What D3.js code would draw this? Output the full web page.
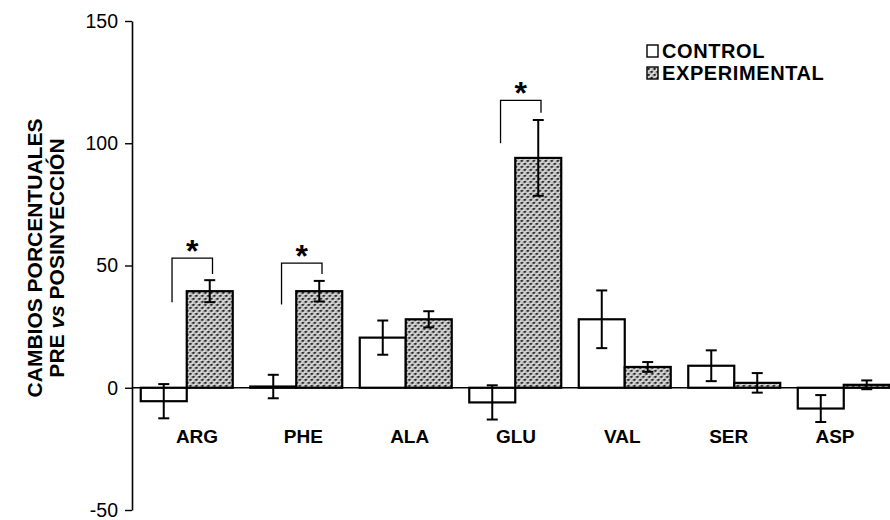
<!DOCTYPE html>
<html>
<head>
<meta charset="utf-8">
<script src="https://cdn.jsdelivr.net/npm/d3@7"></script>
<style>
  body { margin: 0; background: #fff; }
  svg { display: block; font-family: "Liberation Sans", Arial, sans-serif; }
</style>
</head>
<body>
<div id="chart"></div>
<script>
// Amino acids
const categories = ['ARG', 'PHE', 'ALA', 'GLU', 'VAL', 'SER', 'ASP'];
// Percent changes (mean) and error (half-range)
const controlValues = [-5.5, 0.5, 20.5, -6, 28, 9, -8.5];
const controlErrors = [7, 4.8, 7, 7, 11.8, 6.3, 5.5];
const experimentalValues = [39.5, 39.5, 28, 94, 8.5, 2, 1.2];
const experimentalErrors = [4.5, 4.2, 3.3, 15.5, 2, 4, 1.8];
const yTicks = [150, 100, 50, 0, -50];

// Significance brackets
const bracketCats = ['ARG', 'PHE', 'GLU'];
const bracketTop = [53, 51, 117.5];
const bracketLeftEnd = [35, 34, 100];
const bracketRightEnd = [46.5, 46.5, 112.5];

const width = 890, height = 520;
const svg = d3.select('#chart').append('svg')
    .attr('width', width)
    .attr('height', height);

// Pattern for experimental bars
const defs = svg.append('defs');
const pat = defs.append('pattern')
    .attr('id', 'dots')
    .attr('patternUnits', 'userSpaceOnUse')
    .attr('width', 6)
    .attr('height', 6);
pat.append('rect').attr('width', 6).attr('height', 6).attr('fill', '#bcbcbc');
pat.append('path').attr('d', 'M0,0 L6,6 M6,0 L0,6').attr('stroke', '#e6e6e6').attr('stroke-width', 0.9);
pat.append('rect').attr('x', 0.5).attr('y', 1).attr('width', 2.2).attr('height', 1.8).attr('fill', '#1a1a1a');
pat.append('rect').attr('x', 3.5).attr('y', 4).attr('width', 2.2).attr('height', 1.8).attr('fill', '#1a1a1a');

// Scales
const x = d3.scaleBand()
    .domain(categories)
    .range([132, 898.5])
    .paddingInner(0.16)
    .paddingOuter(0.08);

const xSub = d3.scaleBand()
    .domain(['control', 'experimental'])
    .range([0, x.bandwidth()]);

const labelX = d3.scalePoint()
    .domain(categories)
    .range([197, 835]);

const y = d3.scaleLinear()
    .domain([-50, 150])
    .range([510, 21]);

// Y axis
const yAxis = svg.append('g')
    .attr('transform', 'translate(132,0)')
    .call(d3.axisLeft(y).tickValues(yTicks).tickFormat(d => String(d))
        .tickSize(7).tickSizeOuter(0).tickPadding(7));
yAxis.select('.domain').attr('stroke', '#000').attr('stroke-width', 1.6);
yAxis.selectAll('.tick line').attr('stroke', '#000').attr('stroke-width', 1.4);
yAxis.selectAll('.tick text')
    .attr('font-size', 19.5)
    .attr('font-family', '"Liberation Sans", Arial, sans-serif')
    .attr('fill', '#000');

// Y title
const title = svg.append('text')
    .attr('transform', 'translate(0,258) rotate(-90)')
    .attr('text-anchor', 'middle')
    .attr('font-size', 21)
    .attr('font-weight', 'bold');
title.append('tspan').attr('x', 0).attr('y', 42).text('CAMBIOS PORCENTUALES');
const line2 = title.append('tspan').attr('x', 0).attr('y', 64);
line2.append('tspan').text('PRE ');
line2.append('tspan').attr('font-style', 'italic').text('vs');
line2.append('tspan').text(' POSINYECCIÓN');

// Bars
const rows = categories.map((c, i) => ({
    cat: c,
    series: [
        { key: 'control', value: controlValues[i], err: controlErrors[i] },
        { key: 'experimental', value: experimentalValues[i], err: experimentalErrors[i] }
    ]
}));

const groups = svg.selectAll('.group')
    .data(rows)
    .join('g')
    .attr('class', 'group')
    .attr('transform', d => `translate(${x(d.cat)},0)`);

groups.selectAll('rect')
    .data(d => d.series)
    .join('rect')
    .attr('x', d => xSub(d.key))
    .attr('y', d => y(Math.max(0, d.value)))
    .attr('width', xSub.bandwidth())
    .attr('height', d => Math.abs(y(d.value) - y(0)))
    .attr('fill', d => d.key === 'control' ? '#fff' : 'url(#dots)')
    .attr('stroke', '#000')
    .attr('stroke-width', 2.2);

// X axis line at zero
svg.append('line')
    .attr('x1', 132).attr('x2', width)
    .attr('y1', y(0)).attr('y2', y(0))
    .attr('stroke', '#000')
    .attr('stroke-width', 1.6);

// Error bars
const cap = 5.5;
const eb = groups.selectAll('.err')
    .data(d => d.series)
    .join('g')
    .attr('class', 'err')
    .attr('stroke', '#000')
    .attr('stroke-width', 2);
eb.append('line')
    .attr('x1', d => xSub(d.key) + xSub.bandwidth() / 2)
    .attr('x2', d => xSub(d.key) + xSub.bandwidth() / 2)
    .attr('y1', d => y(d.value + d.err))
    .attr('y2', d => y(d.value - d.err));
eb.append('line')
    .attr('x1', d => xSub(d.key) + xSub.bandwidth() / 2 - cap)
    .attr('x2', d => xSub(d.key) + xSub.bandwidth() / 2 + cap)
    .attr('y1', d => y(d.value + d.err))
    .attr('y2', d => y(d.value + d.err));
eb.append('line')
    .attr('x1', d => xSub(d.key) + xSub.bandwidth() / 2 - cap)
    .attr('x2', d => xSub(d.key) + xSub.bandwidth() / 2 + cap)
    .attr('y1', d => y(d.value - d.err))
    .attr('y2', d => y(d.value - d.err));

// Category labels
svg.selectAll('.cat-label')
    .data(categories)
    .join('text')
    .attr('class', 'cat-label')
    .attr('x', d => labelX(d))
    .attr('y', 443)
    .attr('text-anchor', 'middle')
    .attr('font-size', 19)
    .attr('font-weight', 'bold')
    .text(d => d);

// Significance brackets
bracketCats.forEach((c, i) => {
    const xl = x(c) + x.bandwidth() * 0.34;
    const xr = x(c) + x.bandwidth() * 0.78;
    svg.append('path')
        .attr('d', `M${xl},${y(bracketLeftEnd[i])} V${y(bracketTop[i])} H${xr} V${y(bracketRightEnd[i])}`)
        .attr('fill', 'none')
        .attr('stroke', '#000')
        .attr('stroke-width', 1.3);
    svg.append('text')
        .attr('x', (xl + xr) / 2)
        .attr('y', y(bracketTop[i]) + 4)
        .attr('text-anchor', 'middle')
        .attr('font-size', 32)
        .attr('font-weight', 'bold')
        .text('*');
});

// Legend
const legendItems = [
    { label: 'CONTROL', fill: '#fff' },
    { label: 'EXPERIMENTAL', fill: 'url(#dots)' }
];
const legend = svg.append('g').attr('transform', 'translate(647,45)');
const li = legend.selectAll('g')
    .data(legendItems)
    .join('g')
    .attr('transform', (d, i) => `translate(0,${i * 22})`);
li.append('rect')
    .attr('width', 11)
    .attr('height', 12)
    .attr('fill', d => d.fill)
    .attr('stroke', '#000')
    .attr('stroke-width', 1.4);
li.append('text')
    .attr('x', 15)
    .attr('y', 13)
    .attr('font-size', 20)
    .attr('font-weight', 'bold')
    .attr('letter-spacing', 0.6)
    .text(d => d.label);
</script>
</body>
</html>
